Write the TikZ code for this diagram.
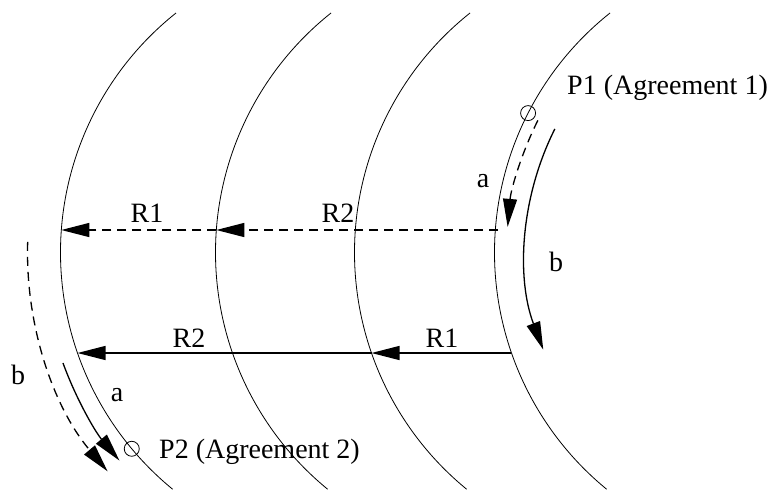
\documentclass[tikz,border=0pt]{standalone}
\usepackage{fontspec}
\setmainfont{Liberation Serif}
\usetikzlibrary{arrows.meta}
\begin{document}
\begin{tikzpicture}[x=1pt,y=-1pt,
  wave/.style={line width=0.8pt},
  ray/.style={line width=1.3pt,-{Triangle[length=28pt,width=14pt]}},
  dray/.style={ray,dash pattern=on 9pt off 6pt},
  lbl/.style={inner sep=0pt,font=\fontsize{28}{32}\selectfont},
  ptc/.style={circle,draw,line width=0.8pt,minimum size=15pt,inner sep=0pt}]
\useasboundingbox (0,0) rectangle (768,491);
% wavefront centres
\coordinate (C1) at (366.5,252.5);
\coordinate (C4) at (800.5,252.5);
% wavefronts
\foreach \dx in {0,155,294,434}
  \draw[wave] (176+\dx,13) arc[start angle=231.5,end angle=129.3,radius=306];
% points
\node[ptc] (P1) at ([shift={(207.1:306)}]C4) {};
\node[ptc] (P2) at ([shift={(140.1:306)}]C1) {};
\node[lbl,anchor=west] (P1t) at (567,88) {P1 (Agreement 1)};
\node[lbl,anchor=west] (P2t) at (159,452) {P2 (Agreement 2)};
% dashed rays
\coordinate (d4) at (498,230);
\coordinate (d2) at (216.3,230);
\coordinate (d1) at (61.3,230);
\draw[dray] (d4) -- (d2);
\draw[dray] (d2) -- (d1);
\node[lbl] (lR1d) at (147,213) {R1};
\node[lbl] (lR2d) at (338,213) {R2};
% solid rays
\coordinate (s4) at (511,353);
\coordinate (s3) at (371.5,353);
\coordinate (s1) at (77.5,353);
\draw[ray] (s4) -- (s3);
\draw[ray] (s3) -- (s1);
\node[lbl] (lR1s) at (442,338) {R1};
\node[lbl] (lR2s) at (189,338) {R2};
% a/b near P1
\coordinate (a1s) at ([shift={(206.7:294)}]C4);
\coordinate (b1s) at ([shift={(206.7:275)}]C4);
\draw[dray] (a1s) arc[start angle=206.7,end angle=185,radius=294];
\draw[ray] (b1s) arc[start angle=206.7,end angle=159.3,radius=275];
\node[lbl] (la1) at (483,181) {a};
\node[lbl] (lb1) at (556,262) {b};
% a/b near P2
\coordinate (a2s) at ([shift={(160:323)}]C1);
\coordinate (b2s) at ([shift={(181.8:339)}]C1);
\draw[ray] (a2s) arc[start angle=160,end angle=139.9,radius=323];
\draw[dray] (b2s) arc[start angle=181.8,end angle=139.8,radius=339];
\node[lbl] (la2) at (117,395) {a};
\node[lbl] (lb2) at (18,375) {b};
\end{tikzpicture}
\end{document}
